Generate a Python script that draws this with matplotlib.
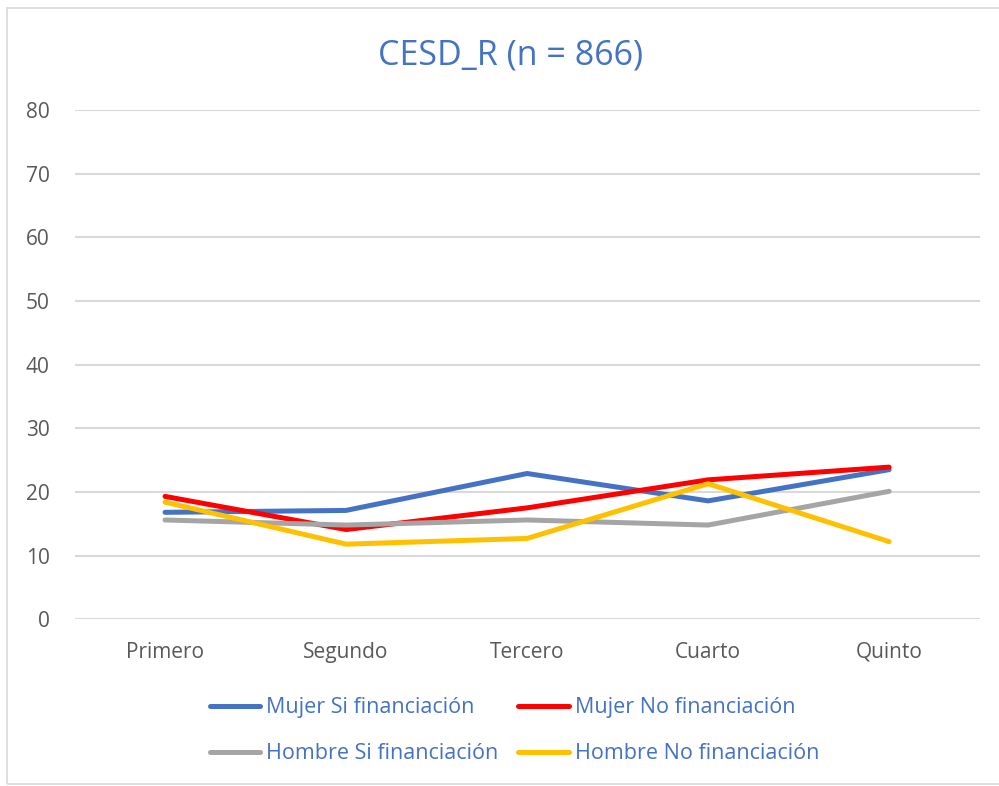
import matplotlib
matplotlib.use("Agg")
import matplotlib.pyplot as plt
from matplotlib.patches import Rectangle

categories = ["Primero", "Segundo", "Tercero", "Cuarto", "Quinto"]
mujer_si = [16.8, 17.1, 22.9, 18.6, 23.5]
mujer_no = [19.3, 14.1, 17.5, 21.9, 23.9]
hombre_si = [15.6, 14.8, 15.6, 14.8, 20.1]
hombre_no = [18.4, 11.8, 12.7, 21.3, 12.2]
yticks = [0, 10, 20, 30, 40, 50, 60, 70, 80]
title = "CESD_R (n = 866)"

plt.rcParams['font.family'] = ['Open Sans', 'DejaVu Sans']

fig = plt.figure(figsize=(9.99, 7.86), dpi=100)
fig.patches.append(Rectangle((0.007, 0.003), 1.2, 0.987, transform=fig.transFigure,
                             fill=False, edgecolor='#D9D9D9', linewidth=1.2))
ax = fig.add_axes([0.0746, 0.2121, 0.906, 0.648])

x = list(range(len(categories)))
series = [
    (mujer_si, '#4472C4', 'Mujer Si financiación'),
    (mujer_no, '#FF0000', 'Mujer No financiación'),
    (hombre_si, '#A5A5A5', 'Hombre Si financiación'),
    (hombre_no, '#FFC000', 'Hombre No financiación'),
]
handles = []
for vals, col, lab in series:
    h, = ax.plot(x, vals, color=col, linewidth=3.6, solid_capstyle='round',
                 solid_joinstyle='round', label=lab, zorder=3)
    handles.append(h)

ax.set_xlim(-0.5, 4.5)
ax.set_ylim(0, 80)
ax.set_yticks(yticks)
ax.set_xticks(x)
ax.set_xticklabels(categories)
ax.grid(axis='y', color='#D9D9D9', linewidth=1.5)
ax.set_axisbelow(True)
for s in ax.spines.values():
    s.set_visible(False)
ax.tick_params(axis='both', length=0, labelsize=15, colors='#595959')
ax.tick_params(axis='y', pad=18)
ax.tick_params(axis='x', pad=16)

fig.text(0.511, 0.930, title, ha='center', va='center', fontsize=24.5, color='#4472C4')

order = [handles[0], handles[2], handles[1], handles[3]]
leg = fig.legend(order, [h.get_label() for h in order], ncol=2,
                 loc='center', bbox_to_anchor=(0.515, 0.070), frameon=False,
                 fontsize=15.5, handlelength=2.35, handletextpad=0.28,
                 columnspacing=0.9, labelspacing=1.16)
for t in leg.get_texts():
    t.set_color('#4472C4')

fig.savefig("out.png", dpi=100)
